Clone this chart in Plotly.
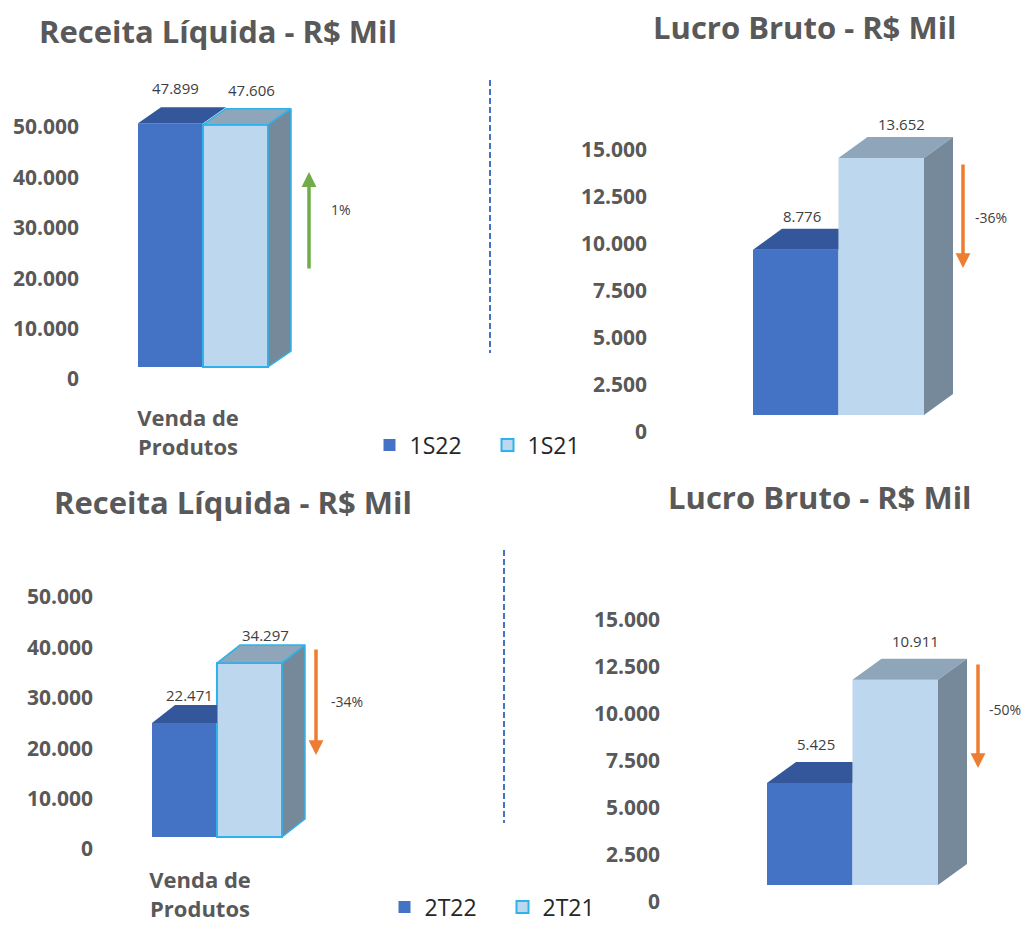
import plotly.graph_objects as go

W, H = 1026, 926

# ---------------- data ----------------
titulo_receita = "Receita Líquida - R$ Mil"
titulo_lucro = "Lucro Bruto - R$ Mil"
categoria = "Venda de<br>Produtos"
series_semestre = ["1S22", "1S21"]
series_trimestre = ["2T22", "2T21"]
receita_1s = [47899, 47606]
lucro_1s = [8776, 13652]
receita_2t = [22471, 34297]
lucro_2t = [5425, 10911]
ticks_receita = [0, 10000, 20000, 30000, 40000, 50000]
ticks_lucro = [0, 2500, 5000, 7500, 10000, 12500, 15000]

# ---------------- style ----------------
FRONT = ["#4472C4", "#BDD7EE"]
TOP = ["#34569A", "#8FA5B9"]
SIDE = "#76899B"
OUTLINE = "#2DB3EC"
GRAY = "#595959"
TXT = "#404040"
UP, DOWN = "#70AD47", "#ED7D31"
FONT = "Open Sans"

# layout geometry per panel (pixels)
panels = [
    dict(values=receita_1s, names=series_semestre, ticks=ticks_receita, title=titulo_receita,
         legend="legend", cat=True, outline=True,
         dom=(60, 403), bar_left=138, barw=65, base=367, scale=5.09, dx=23, dy=16,
         tick0=379, tickscale=5.04, tickx=79, catx=188, title_xy=(218, 31), lab_dy=19,
         lab_fx=(0.2, 0.7), arrow_x=309, arrow_tb=(172, 270), pct_xy=(341, 209)),
    dict(values=lucro_1s, names=series_semestre, ticks=ticks_lucro, title=titulo_lucro,
         legend=None, cat=False, outline=False,
         dom=(60, 442), bar_left=753, barw=85.5, base=415, scale=18.83, dx=29, dy=21,
         tick0=432, tickscale=18.8, tickx=647, catx=None, title_xy=(805, 27), lab_dy=13,
         lab_fx=(0.2, 0.7), arrow_x=963, arrow_tb=(163, 268), pct_xy=(991, 218)),
    dict(values=receita_2t, names=series_trimestre, ticks=ticks_receita, title=titulo_receita,
         legend="legend2", cat=True, outline=True,
         dom=(530, 865), bar_left=152, barw=65, base=837, scale=5.07, dx=23, dy=18,
         tick0=849, tickscale=5.04, tickx=93, catx=200, title_xy=(233, 502), lab_dy=10,
         lab_fx=(0.2, 0.7), arrow_x=316, arrow_tb=(648, 755), pct_xy=(347, 701)),
    dict(values=lucro_2t, names=series_trimestre, ticks=ticks_lucro, title=titulo_lucro,
         legend=None, cat=False, outline=False,
         dom=(530, 912), bar_left=767, barw=85.5, base=885, scale=18.8, dx=29, dy=21,
         tick0=902, tickscale=18.8, tickx=660, catx=None, title_xy=(820, 497), lab_dy=18,
         lab_fx=(0.2, 0.7), arrow_x=978, arrow_tb=(663, 768), pct_xy=(1005, 709)),
]


def fmt(v):
    return f"{v:,}".replace(",", ".")


fig = go.Figure()
annotations = []
shapes = []
layout_axes = {}

for k, p in enumerate(panels):
    xa = "x" if k == 0 else f"x{k+1}"
    ybar = "y" if k == 0 else f"y{2*k+1}"
    ytick = f"y{2*k+2}"
    xkey = "xaxis" if k == 0 else f"xaxis{k+1}"
    ybarkey = "yaxis" if k == 0 else f"yaxis{2*k+1}"
    ytickkey = f"yaxis{2*k+2}"

    yt, yb = p["dom"]
    ydom = [1 - yb / H, 1 - yt / H]
    x0px = p["bar_left"] - p["barw"]
    x1px = p["bar_left"] + 3 * p["barw"]
    xdom = [x0px / W, x1px / W]
    bar_range = [(p["base"] - yb) / p["scale"] * 1000, (p["base"] - yt) / p["scale"] * 1000]
    tick_range = [(p["tick0"] - yb) / p["tickscale"] * 1000, (p["tick0"] - yt) / p["tickscale"] * 1000]

    ddx = p["dx"] / p["barw"]
    ddy = p["dy"] / p["scale"] * 1000
    v1, v2 = p["values"]

    # front faces
    for i, (name, v) in enumerate(zip(p["names"], p["values"])):
        line_w = 2 if (p["outline"] and i == 1) else 0
        fig.add_trace(go.Bar(
            x=[0.5 + i], y=[v], width=1, name=name,
            marker=dict(color=FRONT[i], line=dict(color=OUTLINE, width=line_w)),
            xaxis=xa, yaxis=ybar, hoverinfo="skip",
            showlegend=p["legend"] is not None,
            legend=p["legend"] if p["legend"] else "legend",
        ))

    # top face of first bar (clipped behind second bar if shorter)
    if v2 > v1:
        tx = [0, 1, 1, ddx, 0]
    else:
        tx = [0, 1, 1 + ddx, ddx, 0]
    ty = [v1, v1, v1 + ddy, v1 + ddy, v1]
    fig.add_trace(go.Scatter(x=tx, y=ty, fill="toself", fillcolor=TOP[0], mode="lines",
                             line=dict(width=0), xaxis=xa, yaxis=ybar,
                             hoverinfo="skip", showlegend=False))
    oline = dict(color=OUTLINE, width=1.5) if p["outline"] else dict(width=0)
    # top face of second bar
    fig.add_trace(go.Scatter(x=[1, 2, 2 + ddx, 1 + ddx, 1], y=[v2, v2, v2 + ddy, v2 + ddy, v2],
                             fill="toself", fillcolor=TOP[1], mode="lines", line=oline,
                             xaxis=xa, yaxis=ybar, hoverinfo="skip", showlegend=False))
    # side face of second bar
    fig.add_trace(go.Scatter(x=[2, 2, 2 + ddx, 2 + ddx, 2], y=[0, v2, v2 + ddy, ddy, 0],
                             fill="toself", fillcolor=SIDE, mode="lines", line=oline,
                             xaxis=xa, yaxis=ybar, hoverinfo="skip", showlegend=False))
    # dummy trace so the tick axis has a subplot
    fig.add_trace(go.Scatter(x=[None], y=[None], xaxis=xa, yaxis=ytick,
                             hoverinfo="skip", showlegend=False))

    # value labels
    for i, v in enumerate(p["values"]):
        annotations.append(dict(
            x=0.5 + i + ddx * p["lab_fx"][i], y=v + ddy, xref=xa, yref=ybar,
            text=fmt(v), showarrow=False, yanchor="middle", yshift=p["lab_dy"],
            font=dict(family=FONT, size=15, color=TXT)))

    # variation arrow + percentage
    pct = (v1 / v2 - 1) * 100
    top_px, bot_px = p["arrow_tb"]
    if pct >= 0:
        tip, tail, col = top_px, bot_px, UP
    else:
        tip, tail, col = bot_px, top_px, DOWN
    annotations.append(dict(
        x=p["arrow_x"] / W, y=1 - tip / H, xref="paper", yref="paper",
        ax=0, ay=tail - tip, axref="pixel", ayref="pixel", text="",
        showarrow=True, arrowhead=2, arrowsize=0.85, arrowwidth=3.5, arrowcolor=col))
    annotations.append(dict(
        x=p["pct_xy"][0] / W, y=1 - p["pct_xy"][1] / H, xref="paper", yref="paper",
        text=f"{pct:.0f}%", showarrow=False, xanchor="center", yanchor="middle",
        font=dict(family=FONT, size=14, color=TXT)))

    # title
    annotations.append(dict(
        x=p["title_xy"][0] / W, y=1 - p["title_xy"][1] / H, xref="paper", yref="paper",
        text=p["title"], showarrow=False, xanchor="center", yanchor="middle",
        font=dict(family=FONT, size=31, color=GRAY, weight="bold")))

    # axes
    layout_axes[xkey] = dict(
        domain=xdom, range=[-1, 3], anchor=ybar, showgrid=False, zeroline=False,
        showline=False, ticks="", fixedrange=True,
        tickvals=[(p["catx"] - p["bar_left"]) / p["barw"]] if p["cat"] else [],
        ticktext=[categoria] if p["cat"] else [],
        showticklabels=p["cat"],
        tickfont=dict(family=FONT, size=22, color=GRAY, weight="bold"))
    layout_axes[ybarkey] = dict(
        domain=ydom, range=bar_range, anchor=xa, visible=False, fixedrange=True)
    layout_axes[ytickkey] = dict(
        overlaying=ybar, range=tick_range, anchor="free", position=p["tickx"] / W,
        side="left", tickvals=p["ticks"], tickformat=",.0f", showgrid=False,
        zeroline=False, showline=False, ticks="", fixedrange=True,
        tickfont=dict(family=FONT, size=21, color=GRAY, weight="bold"))

# dashed separators
for xpx, y0, y1 in [(490, 80, 353), (504, 550, 823)]:
    shapes.append(dict(type="line", xref="paper", yref="paper",
                       x0=xpx / W, x1=xpx / W, y0=1 - y0 / H, y1=1 - y1 / H,
                       line=dict(color="#4472C4", width=2, dash="6px,3px")))

legend_common = dict(orientation="h", xanchor="left", yanchor="middle",
                     xref="container", yref="container",
                     font=dict(family=FONT, size=23, color="#262626"),
                     entrywidth=73, entrywidthmode="pixels",
                     bgcolor="rgba(0,0,0,0)", traceorder="normal")

fig.update_layout(
    width=W, height=H, margin=dict(l=0, r=0, t=0, b=0, autoexpand=False),
    paper_bgcolor="white", plot_bgcolor="rgba(0,0,0,0)",
    barmode="overlay", separators=",.",
    annotations=annotations, shapes=shapes,
    legend=dict(x=369.5 / W, y=1 - 445 / H, **legend_common),
    legend2=dict(x=384.5 / W, y=1 - 907 / H, **legend_common),
    **layout_axes,
)

fig.write_html("out.html", config={"displayModeBar": False},
               post_script="document.body.style.margin='0px';document.body.style.overflow='hidden';")
